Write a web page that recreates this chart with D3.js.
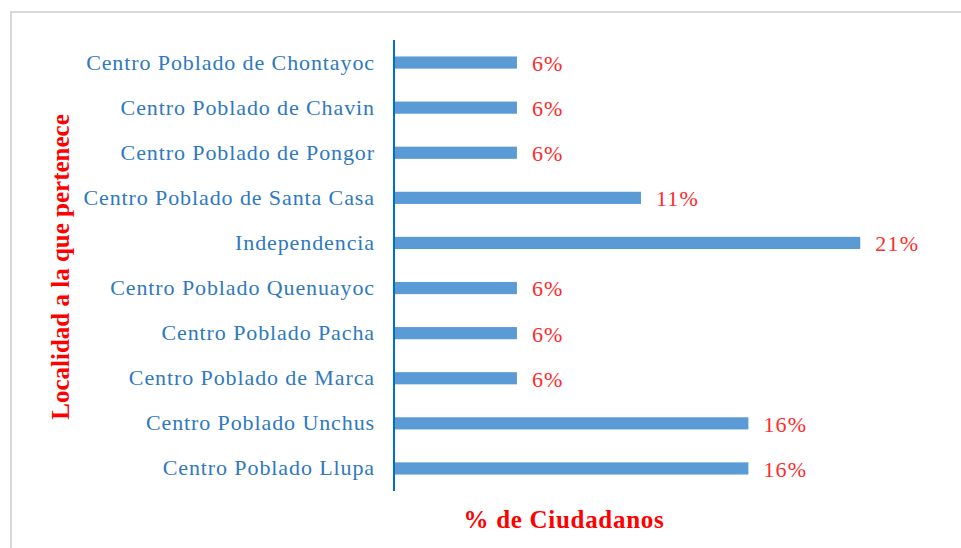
<!DOCTYPE html>
<html>
<head>
<meta charset="utf-8">
<script src="https://cdn.jsdelivr.net/npm/d3@7"></script>
<style>
  body { margin: 0; background: #fff; }
  text { font-family: "Liberation Serif", "Times New Roman", serif; }
</style>
</head>
<body>
<svg></svg>
<script>
let width = 961, height = 548;

// data, top to bottom as in the chart
let localidades = [
    "Centro Poblado de Chontayoc",
    "Centro Poblado de Chavin",
    "Centro Poblado de Pongor",
    "Centro Poblado de Santa Casa",
    "Independencia",
    "Centro Poblado Quenuayoc",
    "Centro Poblado Pacha",
    "Centro Poblado de Marca",
    "Centro Poblado Unchus",
    "Centro Poblado Llupa"
];
let porcentajes = [5.55, 5.55, 5.55, 11.15, 21.05, 5.55, 5.55, 5.55, 16, 16];
let etiquetas = ["6%", "6%", "6%", "11%", "21%", "6%", "6%", "6%", "16%", "16%"];

let svg = d3.select("svg")
    .attr("width", width)
    .attr("height", height);

// light frame round the chart area (runs off right and bottom)
svg.append("rect")
    .attr("x", 11)
    .attr("y", 12)
    .attr("width", width + 20)
    .attr("height", height + 20)
    .attr("fill", "none")
    .attr("stroke", "#d9d9d9")
    .attr("stroke-width", 2);

let x = d3.scaleLinear()
    .domain([0, 24])
    .range([394, 394 + 24 * 22.15]);

let y = d3.scaleBand()
    .domain(localidades)
    .range([40, 491])
    .paddingInner(0.73)
    .paddingOuter(0.365);

let data = localidades.map((d, i) => ({name: d, value: porcentajes[i], label: etiquetas[i]}));

// bars
svg.append("g")
    .selectAll("rect")
    .data(data)
    .enter()
    .append("rect")
    .attr("x", x(0))
    .attr("y", d => y(d.name))
    .attr("width", d => x(d.value) - x(0))
    .attr("height", y.bandwidth())
    .attr("fill", "#5b9bd5");

// category axis
let yAxis = svg.append("g")
    .attr("transform", "translate(" + x(0) + ",0)")
    .call(d3.axisLeft(y).tickSize(0).tickPadding(19));

yAxis.select(".domain")
    .attr("d", "M0," + y.range()[0] + "V" + y.range()[1])
    .attr("stroke", "#0070c0")
    .attr("stroke-width", 2);

yAxis.selectAll(".tick text")
    .attr("fill", "#2e79c0")
    .style("font-family", "'Liberation Serif', serif")
    .style("font-size", "22px")
    .style("letter-spacing", "0.9px")
    .attr("dy", "0.32em");

// value labels
svg.append("g")
    .selectAll("text")
    .data(data)
    .enter()
    .append("text")
    .attr("x", d => x(d.value) + 15)
    .attr("y", d => y(d.name) + y.bandwidth() / 2)
    .attr("dy", "0.38em")
    .attr("fill", "#ff2a2a")
    .style("font-size", "22px")
    .style("letter-spacing", "1.2px")
    .text(d => d.label);

// axis titles
svg.append("text")
    .attr("x", 564)
    .attr("y", 528)
    .attr("text-anchor", "middle")
    .attr("fill", "#ff0000")
    .style("font-weight", "bold")
    .style("font-size", "25px")
    .style("letter-spacing", "0.7px")
    .text("% de Ciudadanos");

svg.append("text")
    .attr("transform", "translate(69,267) rotate(-90)")
    .attr("text-anchor", "middle")
    .attr("fill", "#ff0000")
    .style("font-weight", "bold")
    .style("font-size", "25px")
    .text("Localidad a la que pertenece");
</script>
</body>
</html>
